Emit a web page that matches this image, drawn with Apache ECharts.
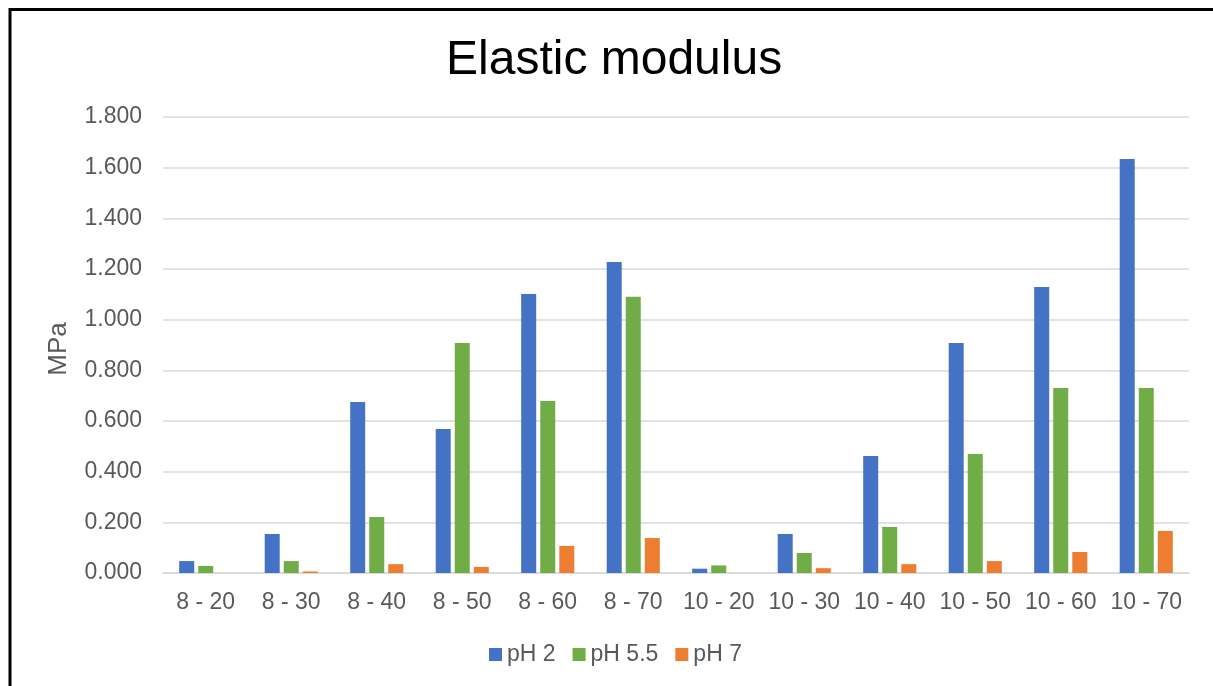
<!DOCTYPE html>
<html>
<head>
<meta charset="utf-8">
<script src="https://cdn.jsdelivr.net/npm/echarts@6/dist/echarts.min.js"></script>
<style>
  html, body { margin: 0; padding: 0; background: #fff; }
  #chart { width: 1213px; height: 686px; }
</style>
</head>
<body>
<div id="chart"></div>
<script>
// Sample groups (series - condition) on the x axis
const categories = ['8 - 20', '8 - 30', '8 - 40', '8 - 50', '8 - 60', '8 - 70',
                    '10 - 20', '10 - 30', '10 - 40', '10 - 50', '10 - 60', '10 - 70'];

// Elastic modulus in MPa for each pH
const ph2  = [0.047, 0.154, 0.675, 0.568, 1.101, 1.228, 0.017, 0.154, 0.462, 0.908, 1.129, 1.634];
const ph55 = [0.028, 0.047, 0.221, 0.908, 0.679, 1.090, 0.030, 0.079, 0.182, 0.470, 0.730, 0.730];
const ph7  = [0.000, 0.006, 0.035, 0.024, 0.107, 0.138, 0.000, 0.019, 0.035, 0.047, 0.083, 0.166];

const seriesNames = ['pH 2', 'pH 5.5', 'pH 7'];
const seriesColors = ['#4472C4', '#70AD47', '#ED7D31'];

const FONT = '"Liberation Sans", Arial, sans-serif';
const chart = echarts.init(document.getElementById('chart'), null, { renderer: 'canvas' });

const barSeries = [ph2, ph55, ph7].map((data, i) => ({
  name: seriesNames[i],
  type: 'bar',
  data: data,
  barWidth: 15,
  barGap: '27%',
  itemStyle: { color: seriesColors[i] }
}));

chart.setOption({
  backgroundColor: '#ffffff',
  animation: false,
  title: {
    text: 'Elastic modulus',
    left: 441,
    top: 32,
    textStyle: { fontFamily: FONT, fontSize: 48, fontWeight: 'normal', color: '#000000' }
  },
  legend: {
    bottom: 15,
    left: 484,
    itemWidth: 13,
    itemHeight: 13,
    itemGap: 17,
    icon: 'rect',
    textStyle: { fontFamily: FONT, fontSize: 23, color: '#595959' },
    data: seriesNames
  },
  grid: { left: 163, right: 24, top: 117, bottom: 113 },
  xAxis: {
    type: 'category',
    data: categories,
    axisLine: { lineStyle: { color: '#D9D9D9', width: 1.5 } },
    axisTick: { show: false },
    axisLabel: { fontFamily: FONT, fontSize: 23, color: '#595959', margin: 18, interval: 0 }
  },
  yAxis: {
    type: 'value',
    min: 0,
    max: 1.8,
    interval: 0.2,
    name: 'MPa',
    nameLocation: 'middle',
    nameGap: 91,
    nameRotate: 90,
    nameTextStyle: { fontFamily: FONT, fontSize: 26, color: '#595959', padding: [0, 8, 0, 0] },
    axisLine: { show: false },
    axisTick: { show: false },
    splitLine: { lineStyle: { color: '#D9D9D9', width: 1.5 } },
    axisLabel: {
      fontFamily: FONT, fontSize: 23, color: '#595959', margin: 21,
      formatter: v => v.toFixed(3)
    }
  },
  series: barSeries,
  graphic: [
    {
      type: 'polyline',
      shape: { points: [[10, 686], [10, 9.5], [1213, 9.5]] },
      style: { stroke: '#000000', lineWidth: 3, fill: null }
    }
  ]
});
</script>
</body>
</html>
